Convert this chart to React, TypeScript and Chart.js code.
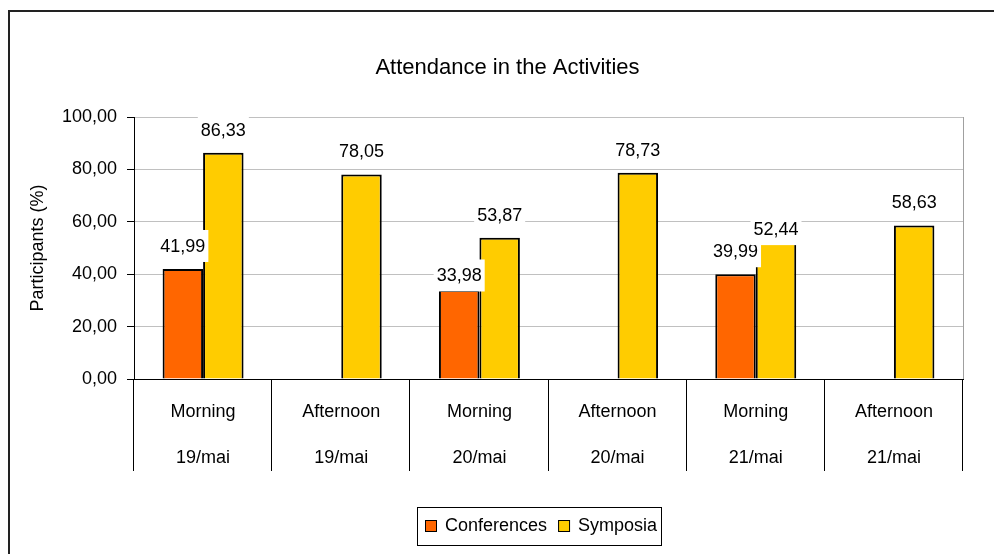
import React, { useEffect, useRef } from "react";
import { Chart, registerables } from "chart.js";

Chart.register(...registerables);

const TITLE = "Attendance in the Activities";
const Y_TITLE = "Participants (%)";
const periods = ["Morning", "Afternoon", "Morning", "Afternoon", "Morning", "Afternoon"];
const days = ["19/mai", "19/mai", "20/mai", "20/mai", "21/mai", "21/mai"];
const conferences: (number | null)[] = [41.99, null, 33.98, null, 39.99, null];
const symposia: number[] = [86.33, 78.05, 53.87, 78.73, 52.44, 58.63];
const seriesNames = ["Conferences", "Symposia"];
const seriesColors = ["#FF6600", "#FFCC00"];
const yTicks = [0, 20, 40, 60, 80, 100];

const FONT = "'Liberation Sans', Arial, sans-serif";
const fmt = (v: number) => v.toFixed(2).replace(".", ",");

// manual vertical nudges of a few data labels (dataset index, point index, px)
const labelNudges: Record<string, number> = { "1-4": 10.5, "0-2": 8.5 };

const customPlugin = {
  id: "customDraw",
  beforeDraw(chart: any) {
    const { ctx, width, height } = chart;
    ctx.save();
    ctx.fillStyle = "#ffffff";
    ctx.fillRect(0, 0, width, height);
    // outer frame
    ctx.strokeStyle = "#222222";
    ctx.lineWidth = 2;
    ctx.beginPath();
    ctx.moveTo(9, height + 5);
    ctx.lineTo(9, 11);
    ctx.lineTo(width + 5, 11);
    ctx.stroke();
    ctx.restore();
  },
  afterDatasetsDraw(chart: any) {
    const { ctx } = chart;
    ctx.save();
    ctx.font = `18px ${FONT}`;
    ctx.textAlign = "center";
    ctx.textBaseline = "middle";
    chart.data.datasets.forEach((ds: any, di: number) => {
      const meta = chart.getDatasetMeta(di);
      meta.data.forEach((el: any, i: number) => {
        const v = ds.data[i];
        if (v === null || v === undefined) return;
        const txt = fmt(v);
        const w = ctx.measureText(txt).width;
        const cy = el.y - 23 + (labelNudges[`${di}-${i}`] || 0);
        ctx.fillStyle = "#ffffff";
        ctx.fillRect(el.x - w / 2 - 3, cy - 16, w + 6, 32);
        ctx.fillStyle = "#000000";
        ctx.fillText(txt, el.x, cy + 1);
      });
    });
    ctx.restore();
  },
  afterDraw(chart: any) {
    const { ctx, chartArea } = chart;
    const xs = chart.scales.x;
    const n = chart.data.labels.length;
    const cw = (chartArea.right - chartArea.left) / n;
    ctx.save();
    // right plot border
    ctx.strokeStyle = "#a0a0a0";
    ctx.lineWidth = 1;
    ctx.beginPath();
    ctx.moveTo(Math.round(chartArea.right) + 0.5, chartArea.top);
    ctx.lineTo(Math.round(chartArea.right) + 0.5, chartArea.bottom);
    ctx.stroke();
    // category separators below axis
    ctx.strokeStyle = "#000000";
    ctx.beginPath();
    for (let i = 0; i <= n; i++) {
      const x = Math.round(xs.left + i * cw) - 0.5;
      ctx.moveTo(x, chartArea.bottom);
      ctx.lineTo(x, chartArea.bottom + 92);
    }
    ctx.stroke();
    // title
    ctx.fillStyle = "#000000";
    ctx.font = `22px ${FONT}`;
    ctx.textAlign = "center";
    ctx.textBaseline = "alphabetic";
    ctx.fillText(TITLE, 507.5, 74);
    // legend
    const lx = 417, ly = 507, lw = 244, lh = 38;
    ctx.strokeStyle = "#000000";
    ctx.lineWidth = 1;
    ctx.strokeRect(lx + 0.5, ly + 0.5, lw, lh);
    ctx.font = `18px ${FONT}`;
    ctx.textAlign = "left";
    ctx.textBaseline = "middle";
    let x = lx + 8;
    seriesNames.forEach((name, i) => {
      ctx.fillStyle = seriesColors[i];
      ctx.fillRect(x + 0.5, ly + 13.5, 11, 11);
      ctx.strokeStyle = "#000000";
      ctx.strokeRect(x + 0.5, ly + 13.5, 11, 11);
      ctx.fillStyle = "#000000";
      ctx.fillText(name, x + 20, ly + 19);
      x += 20 + ctx.measureText(name).width + 11;
    });
    ctx.restore();
  },
};

export default function App() {
  const ref = useRef<HTMLCanvasElement | null>(null);
  useEffect(() => {
    if (!ref.current) return;
    Chart.defaults.font.family = FONT;
    Chart.defaults.color = "#000000";
    const chart = new Chart(ref.current, {
      type: "bar",
      data: {
        labels: periods.map((p, i) => [p, days[i]]),
        datasets: [
          {
            label: seriesNames[0],
            data: conferences,
            backgroundColor: seriesColors[0],
            borderColor: "#000000",
            borderWidth: 2,
            categoryPercentage: 0.586,
            barPercentage: 1,
          },
          {
            label: seriesNames[1],
            data: symposia,
            backgroundColor: seriesColors[1],
            borderColor: "#000000",
            borderWidth: 2,
            categoryPercentage: 0.586,
            barPercentage: 1,
          },
        ],
      },
      options: {
        responsive: false,
        animation: false,
        layout: { padding: { top: 117, right: 31, left: 0, bottom: 0 } },
        plugins: {
          legend: { display: false },
          title: { display: false },
          tooltip: { enabled: false },
        },
        scales: {
          x: {
            grid: { display: false },
            border: { display: true, color: "#000000", width: 1 },
            ticks: {
              color: "#000000",
              font: { size: 18, lineHeight: "46px" as any, family: FONT },
              padding: 2,
              maxRotation: 0,
              autoSkip: false,
            },
            afterFit: (s: any) => {
              s.height = 175;
            },
          },
          y: {
            min: 0,
            max: 100,
            afterBuildTicks: (s: any) => {
              s.ticks = yTicks.map((v) => ({ value: v }));
            },
            grid: {
              color: "#c0c0c0",
              tickColor: "#000000",
              tickLength: 7,
              lineWidth: 1,
            },
            border: { display: true, color: "#000000", width: 1 },
            ticks: {
              color: "#000000",
              font: { size: 18, family: FONT },
              padding: 10,
              callback: (v: any) => fmt(Number(v)),
            },
            title: {
              display: true,
              text: Y_TITLE,
              color: "#000000",
              font: { size: 18, family: FONT },
              padding: { top: 27, bottom: 0 },
            },
            afterFit: (s: any) => {
              s.width = 134;
            },
          },
        },
      },
      plugins: [customPlugin],
    });
    return () => chart.destroy();
  }, []);
  return (
    <div style={{ position: "absolute", left: 0, top: 0, width: 994, height: 554 }}>
      <canvas ref={ref} width={994} height={554} style={{ display: "block" }} />
    </div>
  );
}
